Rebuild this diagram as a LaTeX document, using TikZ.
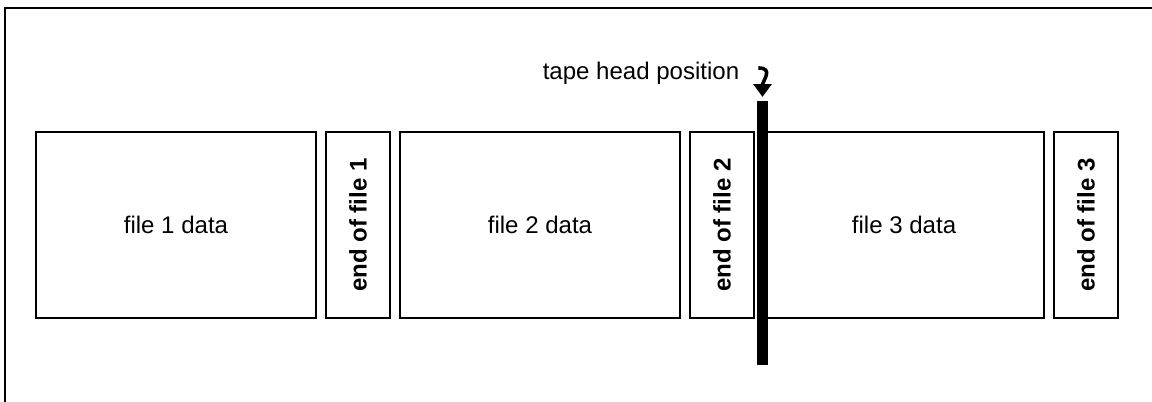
\documentclass[tikz,border=0pt]{standalone}
\usepackage{fontspec}
\setmainfont{Liberation Sans}
\usetikzlibrary{arrows.meta, positioning, calc}

\begin{document}
\begin{tikzpicture}[
  every node/.style={font=\fontsize{9.5}{11}\selectfont},
  databox/.style={rectangle, draw=black, line width=0.7pt, minimum width=3.889cm, minimum height=2.583cm, align=center},
  eofbox/.style={rectangle, draw=black, line width=0.7pt, minimum width=2.583cm, minimum height=0.889cm, rotate=90, font=\fontsize{9.5}{11}\selectfont\bfseries},
  headbar/.style={rectangle, fill=black, minimum width=0.153cm, minimum height=3.667cm, inner sep=0pt},
]
\useasboundingbox (0,0) rectangle (16,5.583);

% frame (top and left edges only)
\draw[line width=0.8pt] (0.07,0) -- (0.07,5.47) -- (16,5.47);

% tape: data blocks and end-of-file marks
\node[databox] (file1) at (2.444, 2.458) {file 1 data};
\node[eofbox] (eof1) at (4.972, 2.458) {end of file 1};
\node[databox] (file2) at (7.5, 2.458) {file 2 data};
\node[eofbox] (eof2) at (10.028, 2.458) {end of file 2};
\node[databox] (file3) at (12.556, 2.458) {file 3 data};
\node[eofbox] (eof3) at (15.083, 2.458) {end of file 3};

% tape head
\node[headbar] (head) at (10.59, 2.347) {};
\node (headlabel) at (8.903, 4.569) {tape head position};
\coordinate (tip) at ($(head.north)+(0,0.05)$);
\draw[-{Triangle[width=7pt, length=5pt]}, line width=1.4pt]
  ([xshift=4pt, yshift=2pt]headlabel.east) .. controls +(0.22,0) and +(0,0.22) .. (tip);

\end{tikzpicture}
\end{document}
